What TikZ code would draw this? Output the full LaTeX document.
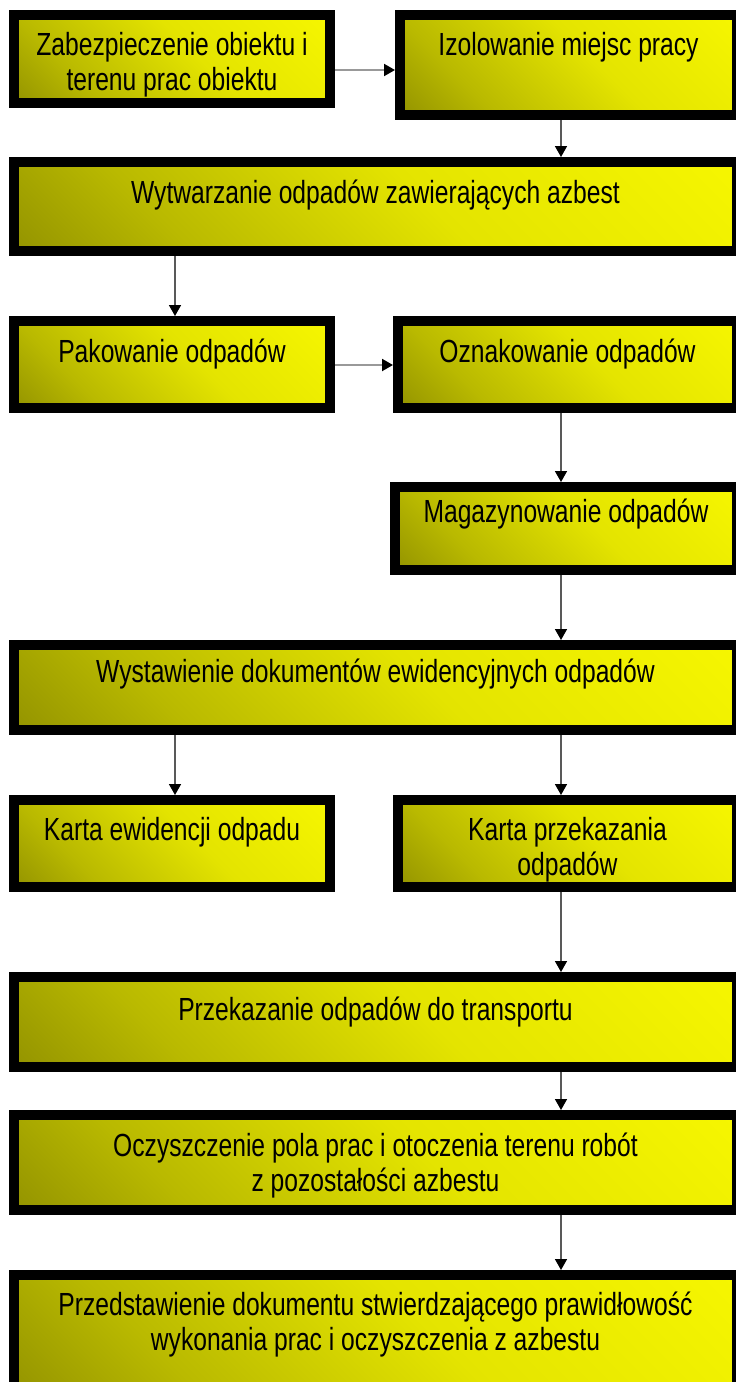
\documentclass[tikz,border=0pt]{standalone}
\usepackage{fontspec}
\setmainfont[FakeStretch=0.77]{Liberation Sans}
\usetikzlibrary{arrows.meta}
\definecolor{olv}{RGB}{112,112,0}
\definecolor{lowy}{RGB}{185,185,0}
\definecolor{midy}{RGB}{228,228,0}
\definecolor{yel}{RGB}{255,255,0}
\pgfdeclareverticalshading{boxshade}{100bp}{color(0bp)=(olv); color(30bp)=(lowy); color(55bp)=(midy); color(100bp)=(yel)}
\newcommand\firstln{\rule{0pt}{23pt}}
\tikzset{
  box/.style={draw=black, line width=10pt, shading=boxshade, shading angle=-45,
    inner sep=0pt, outer sep=5pt},
  txt/.style={font=\fontsize{32}{35}\selectfont, align=center, inner sep=0pt,
    anchor=north, text=black, execute at begin node=\firstln},
  varr/.style={draw=black!65, line width=1.6pt, -{Triangle[length=11pt,width=12pt,color=black]}},
  harr/.style={draw=black!40, line width=2pt, -{Triangle[length=11pt,width=12pt,color=black]}}
}
\begin{document}
\begin{tikzpicture}[x=1pt,y=-1pt]
\useasboundingbox (0,0) rectangle (736,1382);
\fill[white] (0,0) rectangle (736,1382);
\clip (0,0) rectangle (736,1382);
% boxes
\node[box, minimum width=316pt, minimum height=88pt]  (A) at (172,59) {};
\node[box, minimum width=337pt, minimum height=100pt] (B) at (568.5,65) {};
\node[box, minimum width=723pt, minimum height=89pt]  (C) at (375.5,206.5) {};
\node[box, minimum width=316pt, minimum height=87pt]  (D) at (172,364.5) {};
\node[box, minimum width=339pt, minimum height=87pt]  (E) at (567.5,364.5) {};
\node[box, minimum width=342pt, minimum height=83pt]  (F) at (566,528.5) {};
\node[box, minimum width=723pt, minimum height=85pt]  (G) at (375.5,687.5) {};
\node[box, minimum width=316pt, minimum height=87pt]  (H) at (172,843.5) {};
\node[box, minimum width=339pt, minimum height=87pt]  (I) at (567.5,843.5) {};
\node[box, minimum width=723pt, minimum height=90pt]  (J) at (375.5,1022) {};
\node[box, minimum width=723pt, minimum height=95pt]  (K) at (375.5,1162.5) {};
\node[box, minimum width=723pt, minimum height=120pt] (L) at (375.5,1335) {};
% texts
\node[txt] (tA) at ([yshift=-22pt]A.north) {Zabezpieczenie obiektu i\\terenu prac obiektu};
\node[txt] (tB) at ([yshift=-22pt]B.north) {Izolowanie miejsc pracy};
\node[txt] (tC) at ([yshift=-23pt]C.north) {Wytwarzanie odpadów zawierających azbest};
\node[txt] (tD) at ([yshift=-23pt]D.north) {Pakowanie odpadów};
\node[txt] (tE) at ([yshift=-23pt]E.north) {Oznakowanie odpadów};
\node[txt] (tF) at ([yshift=-17pt]F.north) {Magazynowanie odpadów};
\node[txt] (tG) at ([yshift=-19pt]G.north) {Wystawienie dokumentów ewidencyjnych odpadów};
\node[txt] (tH) at ([yshift=-22pt]H.north) {Karta ewidencji odpadu};
\node[txt] (tI) at ([yshift=-22pt]I.north) {Karta przekazania\\odpadów};
\node[txt] (tJ) at ([yshift=-25pt]J.north) {Przekazanie odpadów do transportu};
\node[txt] (tK) at ([yshift=-23pt]K.north) {Oczyszczenie pola prac i otoczenia terenu robót\\z pozostałości azbestu};
\node[txt] (tL) at ([yshift=-22pt]L.north) {Przedstawienie dokumentu stwierdzającego prawidłowość\\wykonania prac i oczyszczenia z azbestu};
% guide coordinates
\coordinate (xl) at (175,0);
\coordinate (xr) at (561,0);
\coordinate (yab) at (0,70);
\coordinate (yde) at (0,365);
% connectors
\draw[harr] (A.east |- yab) -- (B.west |- yab);
\draw[varr] (B.south -| xr) -- (C.north -| xr);
\draw[varr] (C.south -| xl) -- (D.north -| xl);
\draw[harr] (D.east |- yde) -- (E.west |- yde);
\draw[varr] (E.south -| xr) -- (F.north -| xr);
\draw[varr] (F.south -| xr) -- (G.north -| xr);
\draw[varr] (G.south -| xl) -- (H.north -| xl);
\draw[varr] (G.south -| xr) -- (I.north -| xr);
\draw[varr] (I.south -| xr) -- (J.north -| xr);
\draw[varr] (J.south -| xr) -- (K.north -| xr);
\draw[varr] (K.south -| xr) -- (L.north -| xr);
\end{tikzpicture}
\end{document}
